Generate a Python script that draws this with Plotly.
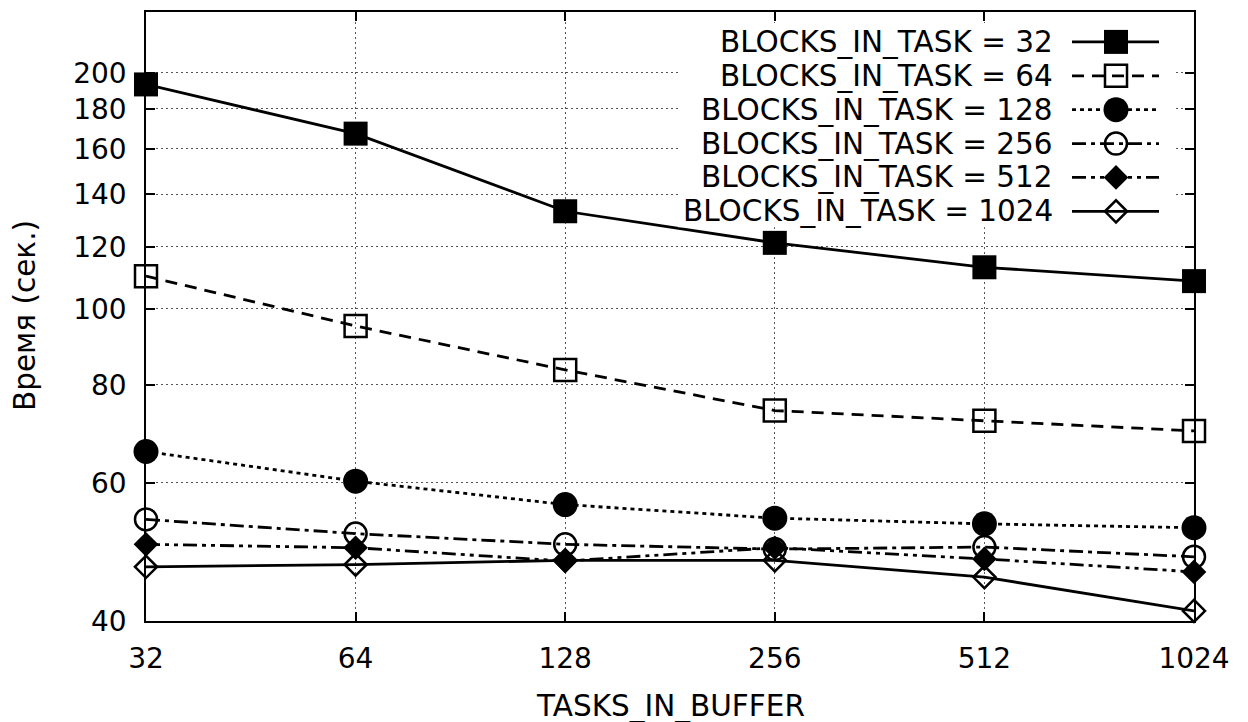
import math
import plotly.graph_objects as go

# ---- data ----
tasks_in_buffer = [32, 64, 128, 256, 512, 1024]
tick_labels_x = ["32", "64", "128", "256", "512", "1024"]
y_ticks = [40, 60, 80, 100, 120, 140, 160, 180, 200]

blocks_32 = [193.3, 167.3, 133.2, 121.4, 113.0, 108.5]
blocks_64 = [110.1, 95.1, 83.6, 74.2, 72.0, 69.9]
blocks_128 = [65.8, 60.3, 56.3, 54.1, 53.2, 52.6]
blocks_256 = [53.9, 51.7, 50.1, 49.4, 49.7, 48.3]
blocks_512 = [50.1, 49.6, 47.7, 49.6, 48.0, 46.2]
blocks_1024 = [46.9, 47.2, 47.8, 47.8, 45.5, 41.2]

series_names = ["BLOCKS_IN_TASK = 32", "BLOCKS_IN_TASK = 64", "BLOCKS_IN_TASK = 128",
                "BLOCKS_IN_TASK = 256", "BLOCKS_IN_TASK = 512", "BLOCKS_IN_TASK = 1024"]
series_values = [blocks_32, blocks_64, blocks_128, blocks_256, blocks_512, blocks_1024]

# ---- styles ----
FONT = "DejaVu Sans"
FS = 29.5
TFS = 28
LW = 2.8
MLW = 2.5
dashes = ["solid", "12px,8px", "4px,4px", "14px,5px,4px,5px",
          "14px,5px,4px,5px,4px,5px", "solid"]
symbols = ["square", "square-open", "circle", "circle-open", "diamond", "diamond-open"]
msizes = [24, 22, 25, 22, 19, 17]

W, H = 1248, 722
L, R, T, B = 146, 54, 10, 101
PW, PH = W - L - R, H - T - B


def px_to_paper(px, py):
    return (px - L) / PW, (H - B - py) / PH


fig = go.Figure()

for name, vals, dash, sym, ms in zip(series_names, series_values, dashes, symbols, msizes):
    fig.add_trace(go.Scatter(
        x=tasks_in_buffer, y=vals, mode="lines+markers", name=name,
        line=dict(color="black", width=LW, dash=dash),
        marker=dict(symbol=sym, size=ms, color="black",
                    line=dict(color="black", width=MLW if "open" in sym else 0)),
        cliponaxis=False, showlegend=False,
    ))

# ---- gnuplot-style opaque key drawn on a pixel overlay axis ----
key_x0, key_x1, key_y0, key_y1 = 678, 1173, 21, 226
fig.add_trace(go.Scatter(
    x=[key_x0, key_x1, key_x1, key_x0, key_x0],
    y=[key_y0, key_y0, key_y1, key_y1, key_y0],
    mode="lines", fill="toself", fillcolor="white", line=dict(width=0, color="white"),
    xaxis="x2", yaxis="y2", showlegend=False, hoverinfo="skip"))

row_y0, row_dy = 40, 34
samp_x0, samp_x1, samp_xm, text_x = 1072, 1159, 1116, 1055
annotations = []
for i, (name, dash, sym, ms) in enumerate(zip(series_names, dashes, symbols, msizes)):
    ry = row_y0 + row_dy * i
    fig.add_trace(go.Scatter(
        x=[samp_x0, samp_x1], y=[ry, ry], mode="lines",
        line=dict(color="black", width=LW, dash=dash),
        xaxis="x2", yaxis="y2", showlegend=False, hoverinfo="skip", cliponaxis=False))
    fig.add_trace(go.Scatter(
        x=[samp_xm], y=[ry], mode="markers",
        marker=dict(symbol=sym, size=ms, color="black",
                    line=dict(color="black", width=MLW if "open" in sym else 0)),
        xaxis="x2", yaxis="y2", showlegend=False, hoverinfo="skip", cliponaxis=False))
    ax_, ay_ = px_to_paper(text_x, ry)
    annotations.append(dict(x=ax_, y=ay_, xref="paper", yref="paper", text=name,
                            showarrow=False, xanchor="right", yanchor="middle",
                            font=dict(family=FONT, size=FS, color="black")))

tx, ty = px_to_paper(670, 706)
annotations.append(dict(x=tx, y=ty, xref="paper", yref="paper", text="TASKS_IN_BUFFER",
                        showarrow=False, xanchor="center", yanchor="middle",
                        font=dict(family=FONT, size=FS, color="black")))
yx, yy = px_to_paper(25, 315)
annotations.append(dict(x=yx, y=yy, xref="paper", yref="paper", text="Время (сек.)",
                        textangle=-90, showarrow=False, xanchor="center", yanchor="middle",
                        font=dict(family=FONT, size=FS, color="black")))

axis_common = dict(showline=True, linecolor="black", linewidth=1.5, mirror="ticks",
                   ticks="inside", ticklen=9, tickwidth=1.5, tickcolor="black",
                   showgrid=True, gridcolor="#555555", gridwidth=1, griddash="2px,3px",
                   zeroline=False, tickfont=dict(family=FONT, size=TFS, color="black"))

eps = 1e-6
fig.update_layout(
    width=W, height=H, margin=dict(l=L, r=R, t=T, b=B),
    paper_bgcolor="white", plot_bgcolor="white", showlegend=False,
    font=dict(family=FONT, size=FS, color="black"),
    xaxis=dict(type="log",
               range=[math.log10(tasks_in_buffer[0]) - eps, math.log10(tasks_in_buffer[-1]) + eps],
               tickvals=tasks_in_buffer, ticktext=tick_labels_x, ticklabelstandoff=12,
               **axis_common),
    yaxis=dict(type="log", range=[math.log10(40) - eps, math.log10(239.1)],
               tickvals=y_ticks, ticktext=[str(v) for v in y_ticks], ticklabelstandoff=12,
               **axis_common),
    xaxis2=dict(overlaying="x", anchor="y2", range=[L, W - R], visible=False, fixedrange=True),
    yaxis2=dict(overlaying="y", anchor="x2", range=[H - B, T], visible=False, fixedrange=True),
    annotations=annotations,
)

fig.write_html("out.html")
